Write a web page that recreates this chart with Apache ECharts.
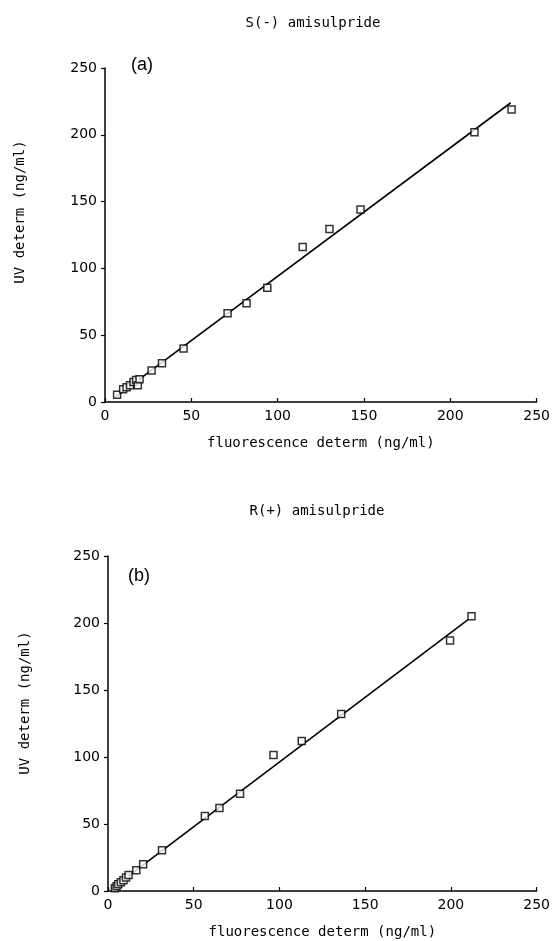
<!DOCTYPE html>
<html>
<head>
<meta charset="utf-8">
<script src="https://cdn.jsdelivr.net/npm/echarts@6/dist/echarts.min.js"></script>
<style>
  html, body { margin: 0; padding: 0; background: #fff; }
  #main { width: 553px; height: 941px; }
</style>
</head>
<body>
<div id="main"></div>
<script>
// (a) S(-) amisulpride
var sX = [7, 10.5, 12.5, 14.5, 16.5, 18, 19, 20, 27, 33, 45.5, 71, 82, 94, 114.5, 130, 148, 214, 235.5];
var sY = [5.5, 9.5, 11, 12.5, 15, 16.5, 12.5, 17, 23.5, 29, 40, 66.5, 74, 85.5, 116, 129.5, 144, 202, 219];
var sLineX = [6, 235];
var sLineY = [3.7, 224];

// (b) R(+) amisulpride
var rX = [4, 5, 6, 7.5, 9, 10.5, 12, 16.5, 20.5, 31.5, 56.5, 65, 77, 96.5, 113, 136, 199.5, 212];
var rY = [2, 3.5, 5, 6.5, 8, 10, 12, 15.5, 20, 30.5, 56, 62, 72.5, 101.5, 112, 132, 187, 205];
var rLineX = [2, 210];
var rLineY = [1.6, 202.6];

var titles = ['S(-) amisulpride', 'R(+) amisulpride'];
var panels = ['(a)', '(b)'];
var xName = 'fluorescence determ (ng/ml)';
var yName = 'UV determ (ng/ml)';

function pairs(xs, ys) {
  return xs.map(function (x, i) { return [x, ys[i]]; });
}

var mono = 'DejaVu Sans Mono';
var tickFont = 'DejaVu Sans';

function xAxisCfg(gi) {
  return {
    gridIndex: gi, type: 'value', min: 0, max: 250, interval: 50,
    name: xName, nameLocation: 'middle', nameGap: 34,
    nameTextStyle: { fontFamily: mono, fontSize: 14, color: '#000' },
    axisLine: { onZero: false, lineStyle: { color: '#000', width: 1.5 } },
    axisTick: { inside: true, length: 4, lineStyle: { color: '#000', width: 1.2 } },
    axisLabel: { fontFamily: tickFont, fontSize: 14, color: '#000', margin: 7 },
    splitLine: { show: false }
  };
}
function yAxisCfg(gi) {
  return {
    gridIndex: gi, type: 'value', min: 0, max: 250, interval: 50,
    axisLine: { onZero: false, lineStyle: { color: '#000', width: 1.5 } },
    axisTick: { inside: false, length: 4, lineStyle: { color: '#000', width: 1.2 } },
    axisLabel: { fontFamily: tickFont, fontSize: 14, color: '#000', margin: 8 },
    splitLine: { show: false }
  };
}

var marker = {
  symbol: 'rect', symbolSize: 7,
  itemStyle: { color: '#fff', borderColor: '#000', borderWidth: 1.5 }
};

function titleCfg(text, x, y, font, size) {
  return { text: text, left: x, top: y, textAlign: 'center', textVerticalAlign: 'middle',
    textStyle: { fontFamily: font, fontSize: size, fontWeight: 'normal', color: '#000' } };
}

var myChart = echarts.init(document.getElementById('main'));
var option = {
  backgroundColor: '#fff',
  animation: false,
  title: [
    titleCfg(titles[0], 308, 18, mono, 14),
    titleCfg(titles[1], 312, 506, mono, 14),
    titleCfg(panels[0], 137, 60, 'Liberation Sans', 18),
    titleCfg(panels[1], 134, 571, 'Liberation Sans', 18)
  ],
  graphic: [
    { type: 'text', x: 20, y: 212, rotation: Math.PI / 2,
      style: { text: yName, font: '14px "DejaVu Sans Mono"', fill: '#000',
        textAlign: 'center', textVerticalAlign: 'middle' } },
    { type: 'text', x: 25, y: 703, rotation: Math.PI / 2,
      style: { text: yName, font: '14px "DejaVu Sans Mono"', fill: '#000',
        textAlign: 'center', textVerticalAlign: 'middle' } }
  ],
  grid: [
    { left: 105, top: 68, width: 433, height: 334 },
    { left: 108, top: 556, width: 434, height: 335 }
  ],
  xAxis: [xAxisCfg(0), xAxisCfg(1)],
  yAxis: [yAxisCfg(0), yAxisCfg(1)],
  series: [
    { type: 'line', xAxisIndex: 0, yAxisIndex: 0, data: pairs(sLineX, sLineY),
      showSymbol: false, lineStyle: { color: '#000', width: 1.6 }, z: 1 },
    Object.assign({ type: 'scatter', xAxisIndex: 0, yAxisIndex: 0, data: pairs(sX, sY), z: 2 }, marker),
    { type: 'line', xAxisIndex: 1, yAxisIndex: 1, data: pairs(rLineX, rLineY),
      showSymbol: false, lineStyle: { color: '#000', width: 1.6 }, z: 1 },
    Object.assign({ type: 'scatter', xAxisIndex: 1, yAxisIndex: 1, data: pairs(rX, rY), z: 2 }, marker)
  ]
};
myChart.setOption(option);
</script>
</body>
</html>
